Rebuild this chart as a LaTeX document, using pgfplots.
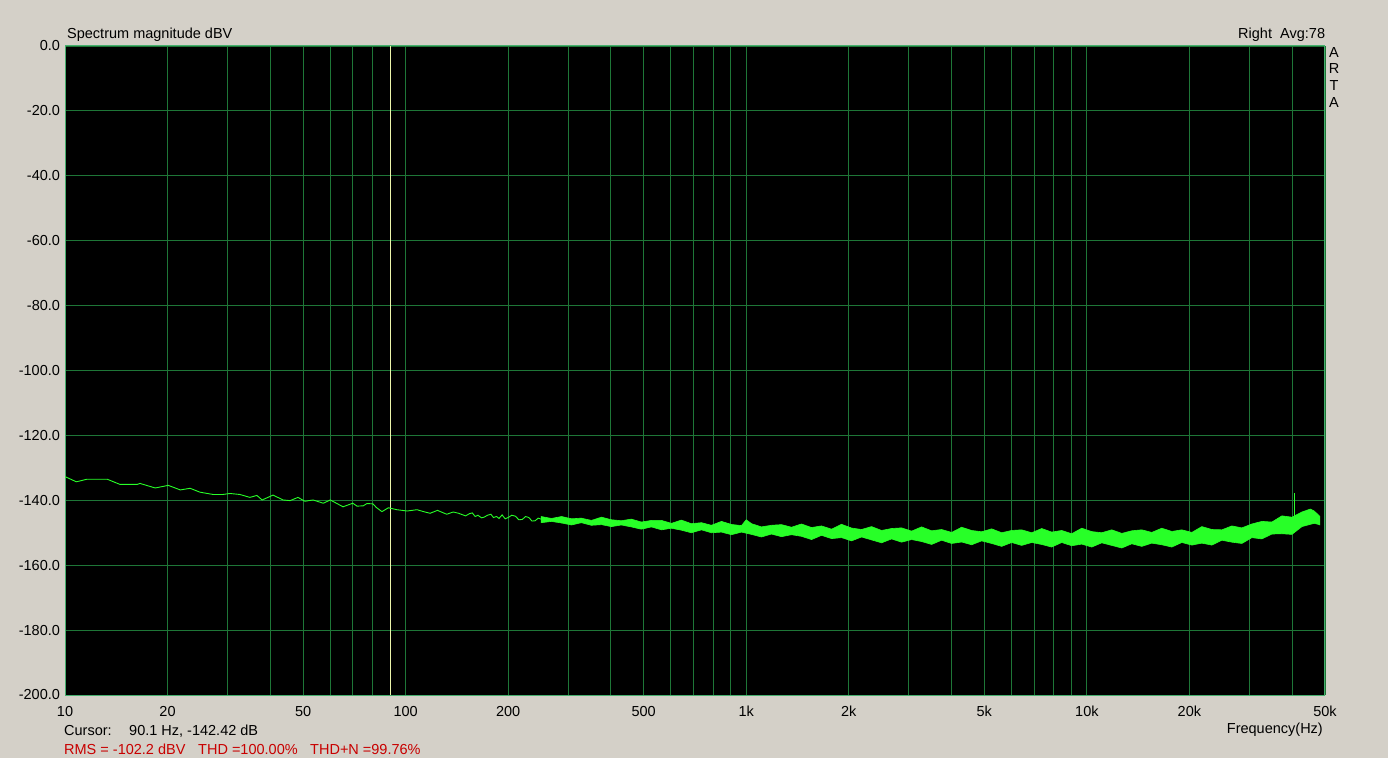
\documentclass[border=0pt]{standalone}
\usepackage{pgfplots}
\pgfplotsset{compat=1.18}
\usepackage{fontspec}
\setmainfont{Liberation Sans}
\definecolor{bg}{RGB}{212,208,200}
\definecolor{gridc}{RGB}{30,118,55}
\definecolor{framec}{RGB}{70,175,110}
\definecolor{trace}{RGB}{40,255,40}
\definecolor{cursorc}{RGB}{235,245,170}
\definecolor{redt}{RGB}{200,0,0}
\begin{document}
\fontsize{14.5}{17}\selectfont
\begin{tikzpicture}
\useasboundingbox (0pt,0pt) rectangle (1388pt,758pt);
\fill[bg] (0pt,0pt) rectangle (1388pt,758pt);
\begin{axis}[
  at={(65pt,63pt)}, anchor=south west,
  scale only axis, width=1260pt, height=649pt,
  xmode=log, xmin=10, xmax=50000, ymin=-200, ymax=0,
  axis background/.style={fill=black},
  axis line style={framec, line width=1pt},
  major tick length=0pt, minor tick length=0pt,
  xtick={10,20,30,40,50,60,70,80,90,100,200,300,400,500,600,700,800,900,1000,2000,3000,4000,5000,6000,7000,8000,9000,10000,20000,30000,40000,50000},
  xticklabels={10,20,,,50,,,,,100,200,,,500,,,,,1k,2k,,,5k,,,,,10k,20k,,,50k},
  ytick={0,-20,-40,-60,-80,-100,-120,-140,-160,-180,-200},
  xmajorgrids, ymajorgrids,
  major grid style={gridc, line width=0.9pt},
  tick label style={font=\fontsize{14.5}{17}\selectfont, text=black},
  xticklabel style={yshift=-6pt},
  /pgf/number format/assume math mode=true,
  yticklabel={\pgfmathprintnumber[fixed,fixed zerofill,precision=1]{\tick}},
  clip=true,
]
% cursor line
\addplot[cursorc, line width=1pt] coordinates {(90.1,0) (90.1,-200)};
% low-frequency trace
\addplot[trace, line width=0.9pt] coordinates {
(10,-132.7) (10.8,-134.3) (11.6,-133.5) (13.3,-133.5) (14.5,-135.1) (16.3,-135.1)
(16.6,-134.8) (18.4,-136.2) (20.1,-135.4) (21.8,-136.8) (23.3,-136.3) (24.9,-137.5)
(27.2,-138.2) (29.1,-138.2) (30.5,-137.9) (32.6,-138.2) (34.9,-139.1) (36.6,-138.5)
(37.9,-139.9) (40.8,-138.4) (43.7,-139.9) (45.8,-140.1) (48.3,-139.1) (50.6,-140.3)
(53.5,-139.9) (57.3,-140.9) (60.1,-139.9) (65.5,-142.0) (70.0,-140.9) (72,-141.8)
(75.1,-141.7) (77,-141.0) (80.2,-141.1) (82,-142.2) (85.2,-143.5) (89.0,-142.3)
(94.3,-142.9) (101,-143.3) (108,-142.9) (113,-143.5) (118,-144.0) (124,-143.1)
(132,-144.3) (138,-143.6) (143,-144.0) (150,-144.8) (154,-144.1) (157,-143.9) (160,-145.0) (163,-144.6)
(167,-145.4) (170,-145.2) (174,-144.6) (178,-144.3) (181,-145.3) (185,-145.0) (188,-145.6) (192,-144.5)
(196,-145.7) (200,-145.3) (205,-144.6) (210,-144.9) (215,-146.0) (220,-145.9) (225,-145.0) (230,-145.3)
(235,-146.4) (240,-146.3) (245,-145.5) (250,-145.8)
};
% noise band (upper edge then lower edge)
\addplot[trace, fill=trace, line width=0.6pt, line join=miter] coordinates {
(250,-145.0) (268,-145.6) (287,-145.0) (307,-145.7) (328,-145.5) (351,-146.2)
(376,-145.2) (402,-146.0) (430,-146.3) (460,-145.8) (492,-146.7) (527,-146.2)
(564,-146.2) (603,-147.1) (645,-146.1) (690,-147.2) (739,-146.9) (790,-147.7)
(846,-146.5) (905,-147.45) (968,-147.8) (1000,-146.0) (1036,-147.2) (1108,-148.2)
(1186,-147.7) (1269,-147.5) (1358,-148.3) (1453,-147.3) (1555,-148.4) (1663,-147.9)
(1780,-148.9) (1904,-147.4) (2038,-148.55) (2180,-149.0) (2333,-148.1) (2496,-149.3)
(2671,-148.7) (2858,-148.5) (3058,-149.5) (3272,-148.2) (3501,-149.4) (3746,-149.0)
(4008,-149.9) (4289,-148.3) (4589,-149.3) (4910,-149.7) (5254,-148.8) (5622,-150.0)
(6015,-149.3) (6436,-149.1) (6887,-150.0) (7369,-148.7) (7885,-149.8) (8437,-149.3)
(9027,-150.3) (9659,-148.6) (10335,-149.65) (11059,-150.0) (11833,-149.1) (12661,-150.2)
(13547,-149.4) (14496,-149.1) (15510,-149.9) (16596,-148.6) (17758,-149.6) (19001,-149.1)
(20331,-149.9) (21754,-148.1) (23277,-149.0) (24906,-149.1) (26650,-147.9) (28515,-148.5)
(30511,-147.3) (32647,-146.5) (34932,-146.7) (37378,-144.8) (39994,-145.2) (42794,-143.6)
(45300,-142.7) (46500,-143.3) (47700,-144.4) (48300,-145.0)
(48300,-147.6) (47700,-147.4) (46500,-147.1) (45300,-147.4) (42794,-148.1) (39994,-150.5)
(37378,-150.3) (34932,-150.4) (32647,-151.9) (30511,-151.5) (28515,-153.3) (26650,-152.9)
(24906,-152.3) (23277,-153.8) (21754,-153.2) (20331,-153.8) (19001,-153.0) (17758,-154.4)
(16596,-153.7) (15510,-153.2) (14496,-154.2) (13547,-153.4) (12661,-154.7) (11833,-153.9)
(11059,-153.1) (10335,-154.4) (9659,-153.5) (9027,-154.0) (8437,-153.0) (7885,-154.4)
(7369,-153.6) (6887,-153.0) (6436,-153.9) (6015,-153.0) (5622,-154.2) (5254,-153.3)
(4910,-152.5) (4589,-153.7) (4289,-152.85) (4008,-153.3) (3746,-152.3) (3501,-153.6)
(3272,-152.7) (3058,-152.1) (2858,-152.9) (2671,-151.9) (2496,-153.1) (2333,-152.2)
(2180,-151.3) (2038,-152.5) (1904,-151.5) (1780,-151.8) (1663,-150.8) (1555,-152.1)
(1453,-151.1) (1358,-150.6) (1269,-151.2) (1186,-150.4) (1108,-151.3) (1036,-150.5)
(968,-149.8) (905,-150.6) (846,-149.8) (790,-150.0) (739,-149.1) (690,-150.0)
(645,-149.2) (603,-148.6) (564,-149.1) (527,-148.2) (492,-148.9) (460,-148.2)
(430,-147.6) (402,-148.1) (376,-147.5) (351,-147.7) (328,-146.9) (307,-147.6)
(287,-147.0) (268,-146.5) (250,-146.9)
} -- cycle;
% spike near 40.7 kHz
\addplot[trace, line width=0.9pt] coordinates {(40700,-149) (40700,-137.8)};
\end{axis}
% annotations
\node[anchor=base west, inner sep=0pt] at (67pt,719pt) {Spectrum magnitude dBV};
\node[anchor=base west, inner sep=0pt] at (1238pt,719pt) {Right};
\node[anchor=base west, inner sep=0pt] at (1280pt,719pt) {Avg:78};
\node[anchor=base, inner sep=0pt] at (1334pt,700pt) {A};
\node[anchor=base, inner sep=0pt] at (1334pt,684pt) {R};
\node[anchor=base, inner sep=0pt] at (1334pt,667pt) {T};
\node[anchor=base, inner sep=0pt] at (1334pt,650pt) {A};
\node[anchor=base west, inner sep=0pt] at (64pt,23pt) {Cursor:};
\node[anchor=base west, inner sep=0pt] at (129pt,23pt) {90.1 Hz, -142.42 dB};
\node[anchor=base east, inner sep=0pt] at (1323pt,25pt) {Frequency(Hz)};
\node[anchor=base west, inner sep=0pt, text=redt] at (64pt,4pt) {RMS = -102.2 dBV};
\node[anchor=base west, inner sep=0pt, text=redt] at (198pt,4pt) {THD =100.00\%};
\node[anchor=base west, inner sep=0pt, text=redt] at (310pt,4pt) {THD+N =99.76\%};
\end{tikzpicture}
\end{document}
